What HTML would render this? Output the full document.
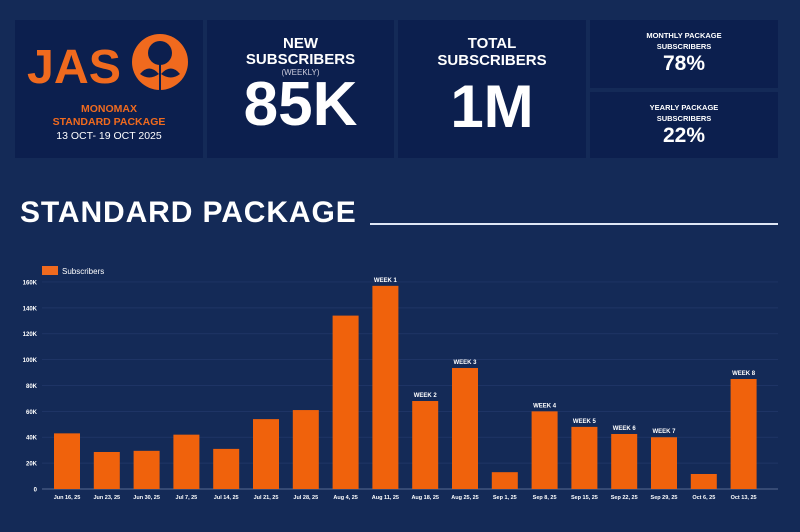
<!DOCTYPE html>
<html><head><style>
body{margin:0;width:800px;height:532px;background:#142a57;font-family:"Liberation Sans",sans-serif;overflow:hidden;position:relative;color:#fff}
.c{position:absolute;background:#0c1f4e;text-align:center;font-weight:bold}
</style></head><body>
<div class="c" style="left:15px;top:20px;width:188px;height:138px">
  <svg width="188" height="138" style="position:absolute;left:0;top:0">
    <text x="12" y="63" font-family="Liberation Sans" font-weight="bold" font-size="48" fill="#f06a1e" textLength="94" lengthAdjust="spacingAndGlyphs">JAS</text>
    <circle cx="145" cy="42" r="28" fill="#f06a1e"/>
    <circle cx="145" cy="33" r="12" fill="#0c1f4e"/>
    <path d="M125 54 Q134 43 144 54 Q134 61 125 54Z M165 54 Q156 43 146 54 Q156 61 165 54Z" fill="#0c1f4e"/>
    <rect x="144" y="42" width="2" height="28" fill="#0c1f4e"/>
  </svg>
  <div style="position:absolute;top:83px;width:100%;color:#f06a1e;font-size:10.5px;line-height:13px">MONOMAX<br>STANDARD PACKAGE</div>
  <div style="position:absolute;top:110px;width:100%;font-size:10.5px;font-weight:normal">13 OCT- 19 OCT 2025</div>
</div>
<div class="c" style="left:207px;top:20px;width:187px;height:138px">
  <div style="margin-top:16px;font-size:15px;line-height:16px">NEW<br>SUBSCRIBERS</div>
  <div style="font-size:8px;font-weight:normal;color:#ccd">(WEEKLY)</div>
  <div style="font-size:62px;line-height:60px;margin-top:-2px">85K</div>
</div>
<div class="c" style="left:398px;top:20px;width:188px;height:138px">
  <div style="margin-top:15px;font-size:15px;line-height:17px">TOTAL<br>SUBSCRIBERS</div>
  <div style="font-size:60px;line-height:60px;margin-top:8px">1M</div>
</div>
<div class="c" style="left:590px;top:20px;width:188px;height:68px">
  <div style="margin-top:10px;font-size:7.5px;line-height:11px">MONTHLY PACKAGE<br>SUBSCRIBERS</div>
  <div style="font-size:21px;line-height:24px">78%</div>
</div>
<div class="c" style="left:590px;top:92px;width:188px;height:66px">
  <div style="margin-top:10px;font-size:7.5px;line-height:11px">YEARLY PACKAGE<br>SUBSCRIBERS</div>
  <div style="font-size:21px;line-height:24px">22%</div>
</div>
<div style="position:absolute;left:20px;top:196px;font-size:30px;font-weight:bold;letter-spacing:0.9px">STANDARD PACKAGE</div>
<div style="position:absolute;left:370px;top:223px;width:408px;height:2px;background:#dfe6f5"></div>
<svg width="800" height="532" style="position:absolute;left:0;top:0" font-family="Liberation Sans" font-weight="bold">
<rect x="42" y="266" width="16" height="9" fill="#f06a1e"/>
<text x="62" y="274" font-size="8" font-weight="normal" fill="#fff">Subscribers</text>
<g id="g"></g>
</svg>
<script>
var g=document.getElementById('g'),h='';
var v=[43,28.6,29.5,42,31,54,61,134,157,68,93.5,13,60,48,42.5,40,11.6,85];
var L=["Jun 16, 25","Jun 23, 25","Jun 30, 25","Jul 7, 25","Jul 14, 25","Jul 21, 25","Jul 28, 25","Aug 4, 25","Aug 11, 25","Aug 18, 25","Aug 25, 25","Sep 1, 25","Sep 8, 25","Sep 15, 25","Sep 22, 25","Sep 29, 25","Oct 6, 25","Oct 13, 25"];
var W={8:"WEEK 1",9:"WEEK 2",10:"WEEK 3",12:"WEEK 4",13:"WEEK 5",14:"WEEK 6",15:"WEEK 7",17:"WEEK 8"};
var y0=489,k=1.294;
for(var t=0;t<=160;t+=20){var y=y0-t*k;h+='<line x1="42" x2="778" y1="'+y+'" y2="'+y+'" stroke="#22386a" stroke-width="0.7"/>';
h+='<text x="37" y="'+(y+2.5)+'" font-size="6" fill="#fff" text-anchor="end">'+(t?t+'K':'0')+'</text>';}
h+='<line x1="42" x2="778" y1="'+y0+'" y2="'+y0+'" stroke="#6b7ba0" stroke-width="0.8"/>';
for(var i=0;i<18;i++){var c=67+i*39.8,y=y0-v[i]*k;
h+='<rect x="'+(c-13)+'" y="'+y+'" width="26" height="'+(y0-y)+'" fill="#f0620c"/>';
h+='<text x="'+c+'" y="'+(y0+10)+'" font-size="5.5" fill="#fff" text-anchor="middle">'+L[i]+'</text>';
if(W[i])h+='<text x="'+c+'" y="'+(y-4)+'" font-size="6" fill="#fff" text-anchor="middle">'+W[i]+'</text>';}
g.innerHTML=h;
</script>
</body></html>
